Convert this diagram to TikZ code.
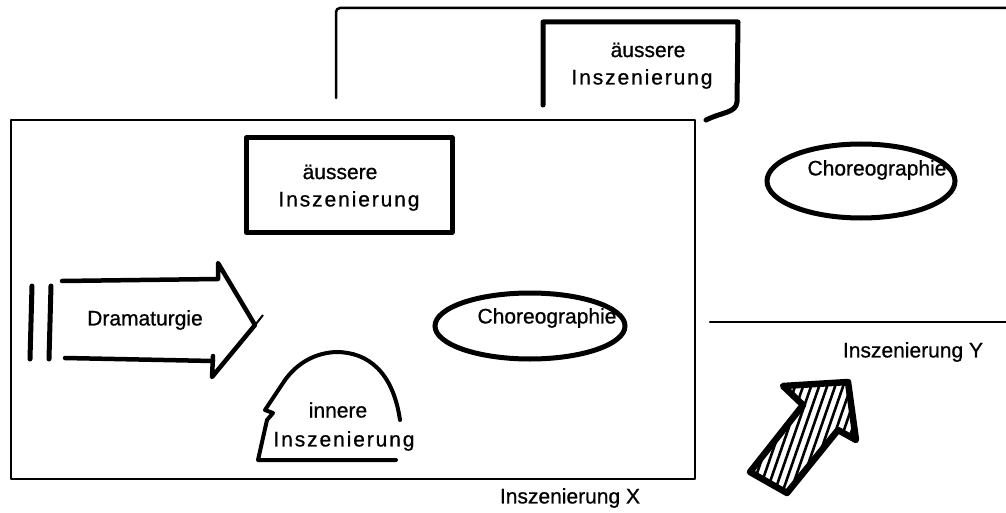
\documentclass[tikz,border=0pt]{standalone}
\usepackage{fontspec}
\setmainfont[FakeBold=0.8]{Liberation Sans}
\newfontfamily\widefont[LetterSpace=9,FakeBold=0.8]{Liberation Sans}
\usetikzlibrary{shapes.geometric}
\begin{document}
\begin{tikzpicture}[x=1pt,y=-1pt,
  frameline/.style={line width=2.5pt, line join=round, line cap=round},
  heavy/.style={line width=5pt, line join=round, line cap=round},
  medium/.style={line width=4.5pt, line join=round, line cap=round},
  txt/.style={font=\fontsize{21}{25}\selectfont, inner sep=0pt, align=center},
  wtxt/.style={font=\widefont\fontsize{21}{25}\selectfont, inner sep=0pt, align=center},
  oval/.style={ellipse, draw, line width=5pt, inner sep=0pt}]
\useasboundingbox (0,0) rectangle (1006,513);

% ---------- back frame (Inszenierung Y)
\coordinate (yA) at (336,98);
\coordinate (yB) at (1006,8);
\coordinate (yC) at (710,322);
\coordinate (yD) at (1006,322);
\draw[frameline, rounded corners=4pt] (yA) |- (yB);
\draw[frameline] (yC) -- (yD);
\node[txt] (labY) at (913,352) {Inszenierung Y};

% upper "aeussere Inszenierung" box
\coordinate (ub1) at (543,105);
\coordinate (ub2) at (543,22);
\coordinate (ub3) at (738,22);
\coordinate (ub4) at (737,102);
\coordinate (ub5) at (706,120);
\draw[heavy] (ub1) -- (ub2) -- (ub3) -- (ub4) .. controls (736,113) and (722,112) .. (ub5);
\node[txt] (ua1) at (648,50) {äussere};
\node[wtxt] (ua2) at (642,79) {Inszenierung};

% upper ellipse
\node[oval, minimum width=188pt, minimum height=74pt] (uch) at (861,181) {};
\node[txt] (uchT) at (877,170) {Choreographie};

% ---------- front frame (Inszenierung X)
\coordinate (xA) at (11,120);
\coordinate (xB) at (695,479);
\draw[frameline, fill=white] (xA) rectangle (xB);
\node[txt] (labX) at (570,498) {Inszenierung X};

% lower "aeussere Inszenierung" box
\coordinate (lb1) at (246,138);
\coordinate (lb2) at (452,138);
\coordinate (lb3) at (452,232);
\coordinate (lb4) at (246,232);
\draw[heavy] (lb1) -- (lb2) -- (lb3) -- (lb4) -- cycle;
\node[txt] (la1) at (340,172) {äussere};
\node[wtxt] (la2) at (349,201) {Inszenierung};

% Dramaturgie arrow
\coordinate (b1a) at (32,286);
\coordinate (b1b) at (30,359);
\coordinate (b2a) at (51,286);
\coordinate (b2b) at (49,359);
\draw[heavy] (b1a) -- (b1b);
\draw[heavy] (b2a) -- (b2b);
\coordinate (dt1) at (62,281);
\coordinate (dt2) at (218,279);
\coordinate (dh1) at (218,263);
\coordinate (dtip) at (255,325);
\coordinate (dh2) at (212,377);
\coordinate (db2) at (213,356);
\coordinate (db1) at (65,358);
\coordinate (dx1) at (249,333);
\coordinate (dx2) at (263,315);
\draw[medium] (dt1) -- (dt2) -- (dh1) -- (dtip) -- (dh2) -- (db2);
\draw[medium] (db1) -- (213,361);
\draw[line width=2pt] (dx1) -- (dx2);
\node[txt] (dram) at (145,320) {Dramaturgie};

% lower ellipse
\node[oval, minimum width=190pt, minimum height=66pt] (lch) at (530,326) {};
\node[txt] (lchT) at (547,318) {Choreographie};

% innere Inszenierung dome
\coordinate (d1) at (400,420);
\coordinate (dtop) at (336,352);
\coordinate (d2) at (283,383);
\coordinate (dz1) at (265,410);
\coordinate (dz2) at (273,413);
\coordinate (dz3) at (267,420);
\coordinate (d3) at (258,460);
\coordinate (d4) at (396,460);
\draw[medium, line width=4pt] (d1) .. controls (393,372) and (368,352) .. (dtop)
  .. controls (312,353) and (294,366) .. (d2)
  -- (dz1) -- (dz2) -- (dz3) -- (d3) -- (d4);
\node[txt] (in1) at (338,410) {innere};
\node[wtxt] (in2) at (344,441) {Inszenierung};

% hatched arrow
\coordinate (h1) at (750,472);
\coordinate (h2) at (787,493);
\coordinate (h3) at (838,430);
\coordinate (h4) at (856,440);
\coordinate (h5) at (848,382);
\coordinate (h6) at (783,386);
\coordinate (h7) at (803,405);
\begin{scope}
  \clip (h1) -- (h2) -- (h3) -- (h4) -- (h5) -- (h6) -- (h7) -- cycle;
  \foreach \x in {690,698,...,880} {
    \draw[line width=2.6pt] (\x,505) -- (\x+45,375);
  }
\end{scope}
\draw[line width=6.5pt, line join=round] (h1) -- (h2) -- (h3) -- (h4) -- (h5) -- (h6) -- (h7) -- cycle;
\end{tikzpicture}
\end{document}
